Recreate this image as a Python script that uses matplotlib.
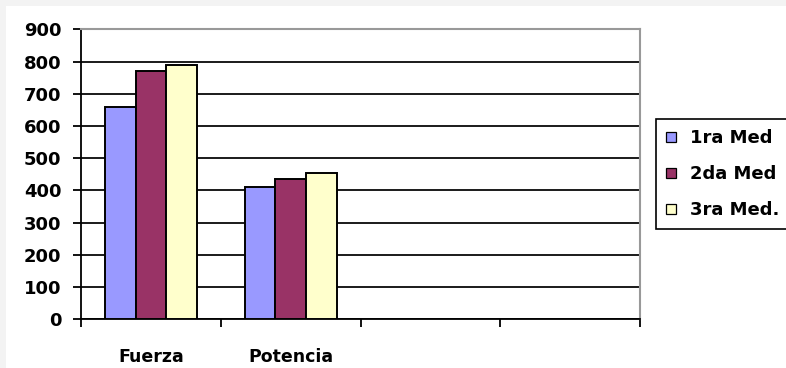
import matplotlib.pyplot as plt
from matplotlib.lines import Line2D
from matplotlib.patches import Rectangle
import numpy as np

# Datos de las mediciones
categorias = ["Fuerza", "Potencia", "", ""]
series = ["1ra Med", "2da Med", "3ra Med."]
med1 = [658, 410]
med2 = [770, 435]
med3 = [790, 453]
colores = ["#9999FF", "#993366", "#FFFFCC"]

plt.rcParams['font.family'] = ['DejaVu Sans']
plt.rcParams['font.weight'] = 'bold'

fig = plt.figure(figsize=(7.86, 3.68), dpi=100, facecolor="#f3f3f3")
# zona blanca del grafico
fig.patches.append(Rectangle((6 / 786, 0), 1, 362 / 368, transform=fig.transFigure,
                             facecolor="white", edgecolor="none", zorder=-5))

ax = fig.add_axes([81 / 786, (368 - 319.3) / 368, 559 / 786, 290 / 368])
ax.set_facecolor("white")

ancho = 0.22
x = np.arange(len(med1))
for i, (vals, col) in enumerate(zip([med1, med2, med3], colores)):
    ax.bar(x + (i - 1) * ancho, vals, ancho, color=col, edgecolor="black",
           linewidth=1.4, zorder=3)

ax.set_xlim(-0.5, len(categorias) - 0.5)
ax.set_ylim(0, 900)
ax.set_yticks(range(0, 901, 100))
ax.yaxis.grid(True, color="#1a1a1a", linewidth=1.4, zorder=1)
ax.set_axisbelow(True)

# marcas entre categorias, etiquetas en el centro
ax.set_xticks(np.arange(-0.5, len(categorias), 1.0))
ax.set_xticklabels([])
ax.set_xticks(np.arange(len(categorias)), minor=True)
ax.set_xticklabels(categorias, minor=True, fontsize=12.5, fontweight="bold")
ax.tick_params(axis="x", which="minor", length=0, pad=21)
ax.tick_params(axis="x", which="major", direction="out", length=6, width=1.3, color="black")
ax.tick_params(axis="y", direction="out", length=6, width=1.3, color="black",
               labelsize=13, pad=8)
for lbl in ax.get_yticklabels():
    lbl.set_fontweight("bold")

ax.spines["left"].set_color("black")
ax.spines["bottom"].set_color("black")
ax.spines["left"].set_linewidth(1.3)
ax.spines["bottom"].set_linewidth(1.3)
ax.spines["top"].set_color("#999999")
ax.spines["right"].set_color("#999999")
ax.spines["top"].set_linewidth(1.5)
ax.spines["right"].set_linewidth(1.5)

handles = [Line2D([], [], linestyle="none", marker="s", markersize=6.5,
                  markerfacecolor=c, markeredgecolor="black", markeredgewidth=0.9)
           for c in colores]
leg = fig.legend(handles, series, loc="upper left",
                 bbox_to_anchor=(655.7 / 786, (368 - 119) / 368),
                 bbox_transform=fig.transFigure, borderaxespad=0,
                 frameon=True, fancybox=False, edgecolor="black",
                 handlelength=0.6, handletextpad=0.75, borderpad=0.55,
                 labelspacing=1.0, prop={"size": 13, "weight": "bold"})
leg.get_frame().set_linewidth(1.2)
leg.get_frame().set_alpha(1)

fig.savefig("out.png", dpi=100, facecolor=fig.get_facecolor())
